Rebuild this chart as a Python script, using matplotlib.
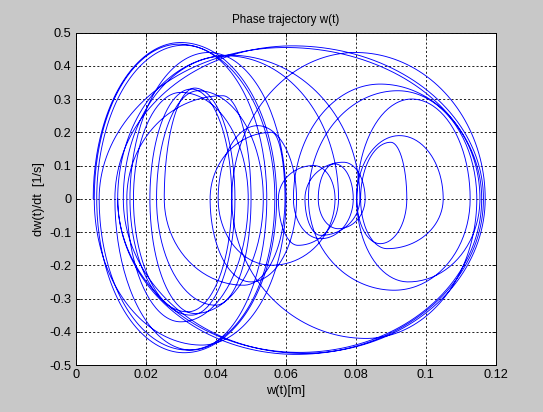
import numpy as np
import matplotlib
matplotlib.use("Agg")
import matplotlib.pyplot as plt

# Turning points of w(t) (where dw/dt = 0), alternating minimum / maximum
turn_w = [0.0050, 0.0574, 0.0060, 0.0546, 0.0112, 0.1165, 0.0120, 0.0812,
          0.0655, 0.0827, 0.0693, 0.0793, 0.0622, 0.1155, 0.0803, 0.1050,
          0.0814, 0.0946, 0.0803, 0.1127, 0.0665, 0.1146, 0.0446, 0.1170,
          0.0136, 0.0751, 0.0579, 0.0741, 0.0407, 0.0631, 0.0384, 0.0598,
          0.0253, 0.0455, 0.0165, 0.0493, 0.0146, 0.0501, 0.0231, 0.0536,
          0.0212, 0.0446, 0.0155, 0.0601, 0.0053, 0.0569, 0.0067, 0.1160,
          0.0120]

# Position of peak speed on each half swing between consecutive turning points
peak_w = [0.0300, 0.0310, 0.0310, 0.0330, 0.0620, 0.0630, 0.0440, 0.0700,
          0.0765, 0.0750, 0.0740, 0.0700, 0.0870, 0.0950, 0.0925, 0.0890,
          0.0900, 0.0870, 0.0960, 0.0910, 0.0920, 0.0830, 0.0800, 0.0650,
          0.0430, 0.0635, 0.0680, 0.0560, 0.0520, 0.0500, 0.0560, 0.0480,
          0.0340, 0.0330, 0.0300, 0.0300, 0.0420, 0.0400, 0.0350, 0.0340,
          0.0330, 0.0320, 0.0380, 0.0360, 0.0295, 0.0320, 0.0600, 0.0640]

# Peak speed dw/dt on each half swing [1/s]
peak_v = [0.470, -0.463, 0.462, -0.455, 0.460, -0.468, 0.432, -0.110,
          0.110, -0.090, 0.105, -0.120, 0.345, -0.250, 0.190, -0.150,
          0.170, -0.135, 0.300, -0.275, 0.325, -0.420, 0.440, -0.465,
          0.430, -0.140, 0.100, -0.200, 0.220, -0.250, 0.200, -0.260,
          0.333, -0.350, 0.320, -0.370, 0.310, -0.320, 0.325, -0.345,
          0.330, -0.340, 0.440, -0.440, 0.465, -0.455, 0.455, -0.462]

# Build the phase curve from elliptic quarter arcs joined at the speed peaks
w_pts, v_pts = [], []
theta = np.linspace(0.0, np.pi, 90)
for i in range(len(peak_v)):
    a, b = turn_w[i], turn_w[i + 1]
    m, p = peak_w[i], peak_v[i]
    c = np.cos(theta)
    half = np.where(theta < np.pi / 2, m - a, b - m)
    w_pts.append(m - half * c)
    v_pts.append(p * np.sin(theta))
w = np.concatenate(w_pts)
v = np.concatenate(v_pts)

fig = plt.figure(figsize=(5.43, 4.12), dpi=100, facecolor="#c8c8c8")
ax = fig.add_axes([0.1394, 0.114, 0.7735, 0.807])
ax.set_facecolor("white")

ax.plot(w, v, color="#0000ff", lw=0.65)

ax.set_xlim(0, 0.12)
ax.set_ylim(-0.5, 0.5)
xt = np.arange(0, 0.121, 0.02)
yt = np.arange(-0.5, 0.501, 0.1)
ax.set_xticks(xt)
ax.set_xticklabels(["0", "0.02", "0.04", "0.06", "0.08", "0.1", "0.12"])
ax.set_yticks(yt)
ax.set_yticklabels(["-0.5", "-0.4", "-0.3", "-0.2", "-0.1", "0",
                    "0.1", "0.2", "0.3", "0.4", "0.5"])

ax.grid(True, color="black", linestyle=(0, (2.5, 2.5)), linewidth=0.6)
ax.tick_params(direction="in", length=3, width=0.6, top=True, right=True,
               labelsize=9.2, colors="black", pad=3)
for s in ax.spines.values():
    s.set_linewidth(0.7)

fnt = "Liberation Sans"
for lbl in ax.get_xticklabels() + ax.get_yticklabels():
    lbl.set_fontfamily(fnt)
ax.set_title("Phase trajectory w(t)", fontsize=8.4, family=fnt, pad=7)
ax.set_xlabel("w(t)[m]", fontsize=9.2, family=fnt, labelpad=3)
ax.set_ylabel("dw(t)/dt  [1/s]", fontsize=9.2, family=fnt, labelpad=3)

fig.savefig("out.png", dpi=100, facecolor=fig.get_facecolor())
